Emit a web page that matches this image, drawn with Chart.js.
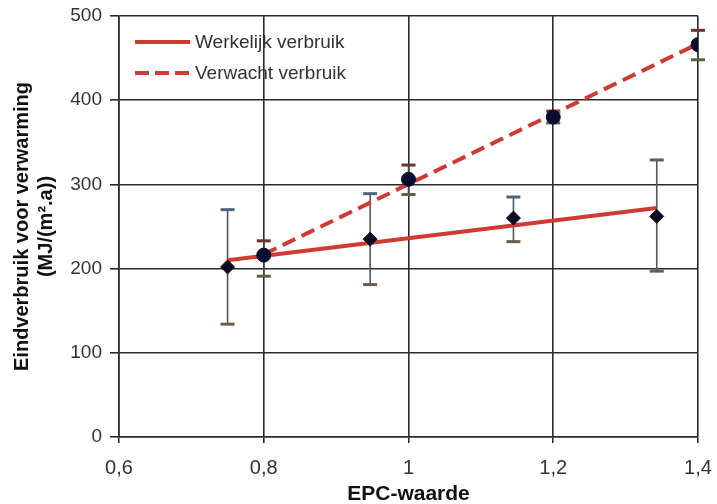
<!DOCTYPE html>
<html>
<head>
<meta charset="utf-8">
<script src="https://cdn.jsdelivr.net/npm/chart.js@4"></script>
<style>
html,body{margin:0;padding:0;background:#fff;}
#wrap{width:717px;height:504px;position:relative;}
</style>
</head>
<body>
<div id="wrap"><canvas id="c" width="717" height="504"></canvas></div>
<script>
// ---- data ----
const xTickValues = [0.6, 0.8, 1.0, 1.2, 1.4];
const xTickLabels = ['0,6', '0,8', '1', '1,2', '1,4'];
const yTickValues = [0, 100, 200, 300, 400, 500];

const werkelijkX = [0.75, 0.947, 1.145, 1.343];
const werkelijkY = [202, 235, 260, 262];
const werkelijkLow = [134, 181, 232, 197];
const werkelijkHigh = [270, 289, 285, 329];

const verwachtX = [0.8, 1.0, 1.2, 1.4];
const verwachtY = [216, 306, 380, 466];
const verwachtLow = [191, 288, 373, 448];
const verwachtHigh = [233, 323, 387, 483];

const trendWerkelijkX = [0.75, 1.343];
const trendWerkelijkY = [210, 272];
const trendVerwachtX = [0.8, 1.4];
const trendVerwachtY = [217, 467];

const labels = ['Werkelijk verbruik', 'Verwacht verbruik'];

const RED = '#cf3a33';
const FONT = "'Liberation Sans', Arial, sans-serif";

function pts(xs, ys) { return xs.map((x, i) => ({x: x, y: ys[i]})); }

const errorBarPlugin = {
  id: 'errorBars',
  beforeDatasetsDraw(chart) {
    const ctx = chart.ctx, xs = chart.scales.x, ys = chart.scales.y;
    const groups = [
      {x: werkelijkX, lo: werkelijkLow, hi: werkelijkHigh, line: '#555', top: '#4d6478', bot: '#6e5a48'},
      {x: verwachtX, lo: verwachtLow, hi: verwachtHigh, line: '#444', top: '#6a3434', bot: '#56643e'}
    ];
    ctx.save();
    groups.forEach(g => {
      g.x.forEach((xv, i) => {
        const px = xs.getPixelForValue(xv);
        const pl = ys.getPixelForValue(g.lo[i]);
        const ph = ys.getPixelForValue(g.hi[i]);
        ctx.strokeStyle = g.line; ctx.lineWidth = 1.6;
        ctx.beginPath(); ctx.moveTo(px, pl); ctx.lineTo(px, ph); ctx.stroke();
        ctx.lineWidth = 3;
        ctx.strokeStyle = g.top;
        ctx.beginPath(); ctx.moveTo(px - 7, ph); ctx.lineTo(px + 7, ph); ctx.stroke();
        ctx.strokeStyle = g.bot;
        ctx.beginPath(); ctx.moveTo(px - 7, pl); ctx.lineTo(px + 7, pl); ctx.stroke();
      });
    });
    ctx.restore();
  }
};

const legendPlugin = {
  id: 'innerLegend',
  afterDraw(chart) {
    const ctx = chart.ctx;
    const a = chart.chartArea;
    ctx.save();
    ctx.font = "19px " + FONT;
    ctx.textBaseline = 'middle';
    ctx.fillStyle = '#333';
    const x0 = a.left + 16, y0 = a.top + 26, dy = 31;
    [0, 1].forEach(k => {
      const y = y0 + k * dy;
      ctx.strokeStyle = RED; ctx.lineWidth = 4;
      ctx.setLineDash(k === 1 ? [14, 6] : []);
      ctx.beginPath(); ctx.moveTo(x0, y); ctx.lineTo(x0 + 55, y); ctx.stroke();
      ctx.setLineDash([]);
      ctx.fillText(labels[k], x0 + 60, y + 1);
    });
    ctx.restore();
  }
};

new Chart(document.getElementById('c'), {
  type: 'scatter',
  data: {
    datasets: [
      {label: labels[0], data: pts(trendWerkelijkX, trendWerkelijkY), showLine: true,
       borderColor: RED, borderWidth: 4, pointRadius: 0, order: 3},
      {label: labels[1], data: pts(trendVerwachtX, trendVerwachtY), showLine: true,
       borderColor: RED, borderWidth: 4, borderDash: [14, 7], pointRadius: 0, order: 2},
      {label: 'werkelijk punten', data: pts(werkelijkX, werkelijkY), pointStyle: 'rectRot',
       pointRadius: 7, backgroundColor: '#0b0b22', borderColor: '#0b0b22', order: 1},
      {label: 'verwacht punten', data: pts(verwachtX, verwachtY), pointStyle: 'circle',
       pointRadius: 7, backgroundColor: '#0a0a2e', borderColor: '#0a0a2e', order: 0}
    ]
  },
  options: {
    responsive: false,
    animation: false,
    layout: {padding: {top: 16, right: 19, left: 0, bottom: 0}},
    plugins: {legend: {display: false}, tooltip: {enabled: false}},
    scales: {
      x: {
        type: 'linear', min: 0.6, max: 1.4,
        afterBuildTicks: s => { s.ticks = xTickValues.map(v => ({value: v})); },
        afterFit: s => { s.height = 67; s.paddingLeft = 0; s.paddingRight = 0; },
        grid: {color: '#2a2a2a', lineWidth: 1.6, tickLength: 6, drawTicks: true},
        border: {color: '#2a2a2a', width: 1.6},
        ticks: {color: '#333', font: {family: FONT, size: 20}, padding: 13,
                callback: (v, i) => xTickLabels[i]},
        title: {display: true, text: 'EPC-waarde', color: '#111',
                font: {family: FONT, size: 21, weight: 'bold', lineHeight: 1},
                padding: {top: 0, bottom: -1}}
      },
      y: {
        type: 'linear', min: 0, max: 500,
        afterBuildTicks: s => { s.ticks = yTickValues.map(v => ({value: v})); },
        afterFit: s => { s.width = 119; s.paddingTop = 0; s.paddingBottom = 0; },
        grid: {color: '#2a2a2a', lineWidth: 1.6, tickLength: 9},
        border: {color: '#2a2a2a', width: 1.6},
        ticks: {color: '#333', font: {family: FONT, size: 19}, padding: 8},
        title: {display: true, text: ['Eindverbruik voor verwarming', '(MJ/(m\u00B2.a))'], color: '#111',
                font: {family: FONT, size: 20, weight: 'bold', lineHeight: 1.2},
                padding: {top: 10, bottom: 0}}
      }
    }
  },
  plugins: [errorBarPlugin, legendPlugin]
});
</script>
</body>
</html>
